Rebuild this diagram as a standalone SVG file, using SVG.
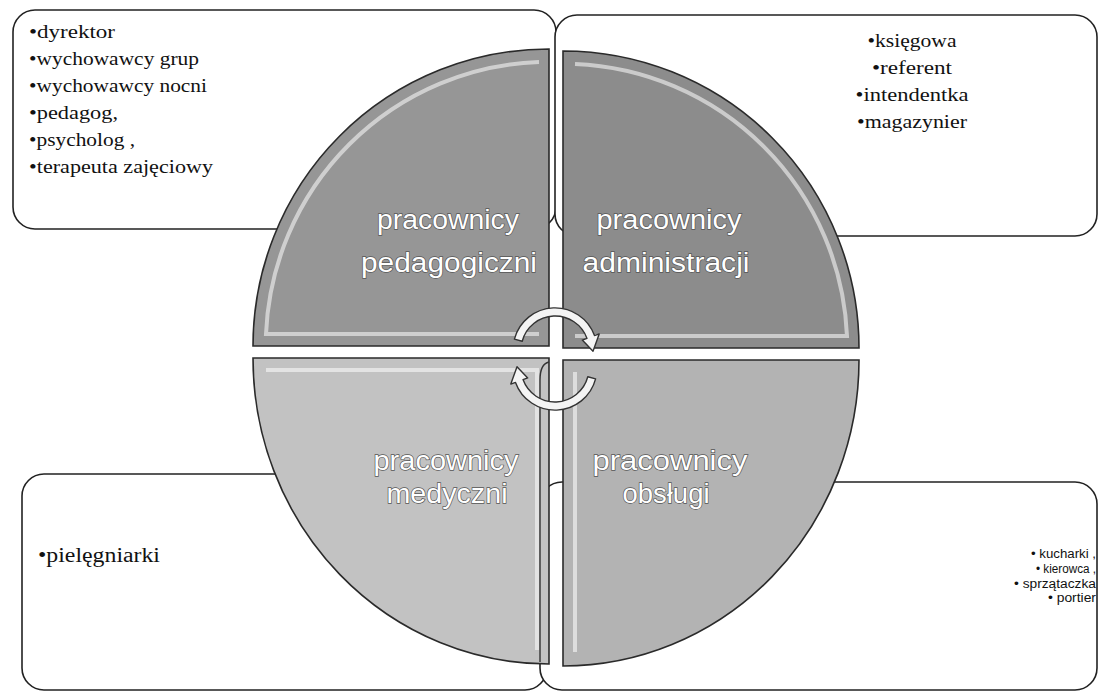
<svg xmlns="http://www.w3.org/2000/svg" width="1101" height="693" viewBox="0 0 1101 693">
<style>
.box{fill:#fff;stroke:#222;stroke-width:1.6}
.q{stroke:#2a2a2a;stroke-width:1.6}
.bevel{fill:none;stroke:#fff;stroke-opacity:0.55;stroke-width:4}
.edge{fill:none;stroke:#333;stroke-width:1.4}
.lst{font-family:"Liberation Serif","DejaVu Serif",serif;font-size:19px;fill:#111}
.sm{font-family:"Liberation Sans",Arial,sans-serif;font-size:12px;fill:#111}
.lbl{font-family:"Liberation Sans",Arial,sans-serif;font-size:27px;fill:#fff;stroke:#555;stroke-width:1.3;paint-order:stroke;text-anchor:middle}
.arr{fill:#f4f4f4;stroke:#333;stroke-width:1.4;stroke-linejoin:round}
</style>
<rect width="1101" height="693" fill="#fff"/>
<g id="box-pedagogiczni">
<rect class="box" x="13" y="10" width="543" height="219" rx="22"/>
<text class="lst" x="29" y="38" textLength="86" lengthAdjust="spacingAndGlyphs">•dyrektor</text>
<text class="lst" x="29" y="65" textLength="170" lengthAdjust="spacingAndGlyphs">•wychowawcy grup</text>
<text class="lst" x="29" y="92" textLength="178" lengthAdjust="spacingAndGlyphs">•wychowawcy nocni</text>
<text class="lst" x="29" y="119" textLength="89" lengthAdjust="spacingAndGlyphs">•pedagog,</text>
<text class="lst" x="29" y="146" textLength="106" lengthAdjust="spacingAndGlyphs">•psycholog ,</text>
<text class="lst" x="29" y="173" textLength="184" lengthAdjust="spacingAndGlyphs">•terapeuta zajęciowy</text>
</g>
<g id="box-administracji">
<rect class="box" x="555" y="15" width="542" height="221" rx="22"/>
<text class="lst" x="912" y="47" text-anchor="middle" textLength="89" lengthAdjust="spacingAndGlyphs">•księgowa</text>
<text class="lst" x="912" y="74" text-anchor="middle" textLength="80" lengthAdjust="spacingAndGlyphs">•referent</text>
<text class="lst" x="912" y="101" text-anchor="middle" textLength="113" lengthAdjust="spacingAndGlyphs">•intendentka</text>
<text class="lst" x="912" y="128" text-anchor="middle" textLength="110" lengthAdjust="spacingAndGlyphs">•magazynier</text>
</g>
<g id="box-medyczni">
<rect class="box" x="22" y="474" width="525" height="216" rx="22"/>
<text class="lst" x="38" y="562" style="font-size:20px" textLength="122" lengthAdjust="spacingAndGlyphs">•pielęgniarki</text>
</g>
<g id="box-obslugi">
<rect class="box" x="540" y="482" width="557" height="208" rx="22"/>
<text class="sm" x="1096" y="558" text-anchor="end" textLength="65" lengthAdjust="spacingAndGlyphs">• kucharki ,</text>
<text class="sm" x="1096" y="573" text-anchor="end" textLength="60" lengthAdjust="spacingAndGlyphs">• kierowca ,</text>
<text class="sm" x="1096" y="588" text-anchor="end" textLength="82" lengthAdjust="spacingAndGlyphs">• sprzątaczka</text>
<text class="sm" x="1096" y="602" text-anchor="end" textLength="48" lengthAdjust="spacingAndGlyphs">• portier</text>
</g>
<g id="quad-pedagogiczni">
<path class="q" fill="#969696" d="M549 346 L253 346 A296 297 0 0 1 549 49 Z"/>
<path class="bevel" d="M539 334 L266 334 A283 284 0 0 1 539 62"/>
<text class="lbl" x="448" y="229" textLength="142" lengthAdjust="spacingAndGlyphs">pracownicy</text>
<text class="lbl" x="449" y="272" textLength="176" lengthAdjust="spacingAndGlyphs">pedagogiczni</text>
</g>
<g id="quad-administracji">
<path class="q" fill="#8c8c8c" d="M563 348 L563 51 A296 297 0 0 1 859 348 Z"/>
<path class="bevel" d="M575 64 A284 284 0 0 1 847 336 L575 336"/>
<text class="lbl" x="669" y="229" textLength="145" lengthAdjust="spacingAndGlyphs">pracownicy</text>
<text class="lbl" x="666" y="272" textLength="167" lengthAdjust="spacingAndGlyphs">administracji</text>
</g>
<g id="quad-medyczni">
<path class="q" fill="#c2c2c2" d="M549 358 L549 664 A296 306 0 0 1 253 358 Z"/>
<path class="bevel" d="M266 370 L537 370 L537 650"/>
<path class="edge" d="M549 362 Q540 364 540 380 L540 662"/>
<text class="lbl" x="446" y="470" textLength="145" lengthAdjust="spacingAndGlyphs">pracownicy</text>
<text class="lbl" x="447" y="503" textLength="121" lengthAdjust="spacingAndGlyphs">medyczni</text>
</g>
<g id="quad-obslugi">
<path class="q" fill="#b3b3b3" d="M563 360 L859 360 A296 306 0 0 1 563 666 Z"/>
<path class="bevel" d="M575 652 L575 372"/>
<text class="lbl" x="670" y="470" textLength="155" lengthAdjust="spacingAndGlyphs">pracownicy</text>
<text class="lbl" x="666" y="503" textLength="87" lengthAdjust="spacingAndGlyphs">obsługi</text>
</g>
<g id="connectors">
<path class="arr" d="M514.4 339.1 A42 42 0 0 1 594.5 335.6 L599.2 333.9 L593 351.3 L582.3 340.1 L587 338.4 A34 34 0 0 0 522.2 341.2 Z"/>
<path class="arr" d="M595.6 378.9 A42 42 0 0 1 515.5 382.4 L510.8 384.1 L517 366.7 L527.7 377.9 L523 379.6 A34 34 0 0 0 587.8 376.8 Z"/>
</g>
</svg>
